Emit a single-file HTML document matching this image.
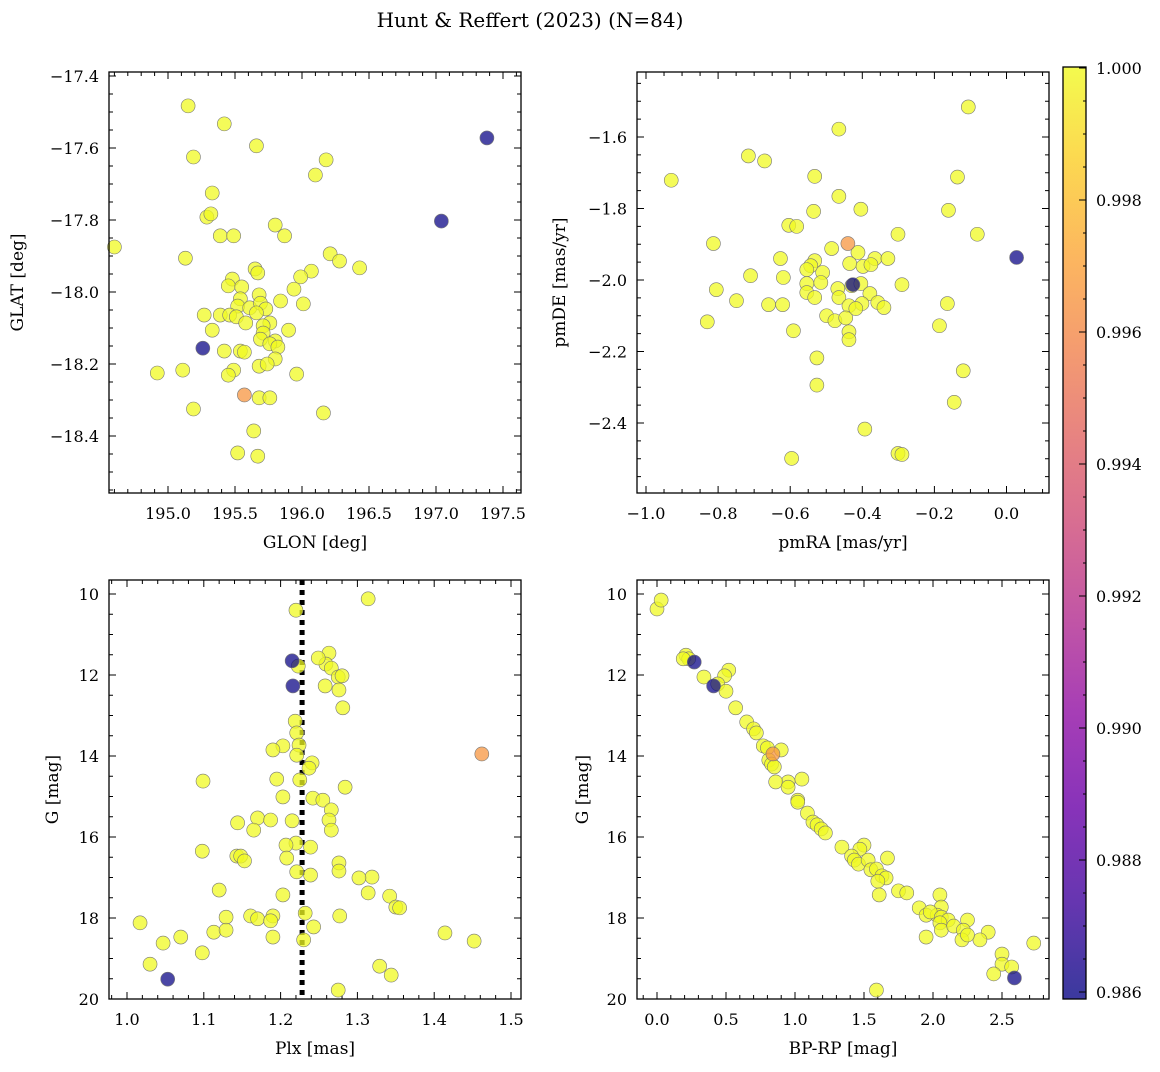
<!DOCTYPE html>
<html><head><meta charset="utf-8"><style>
body{margin:0;background:#fff;}
svg text{font-family:"DejaVu Serif","Liberation Serif",serif;fill:#000;}
</style></head><body>
<svg id="chart" width="1160" height="1067" viewBox="0 0 1160 1067" xmlns="http://www.w3.org/2000/svg">
<defs>
<linearGradient id="plasma" x1="0" y1="1" x2="0" y2="0">
<stop offset="0" stop-color="#0d0887"/><stop offset="0.1" stop-color="#41049d"/><stop offset="0.2" stop-color="#6a00a8"/><stop offset="0.3" stop-color="#8f0da4"/><stop offset="0.4" stop-color="#b12a90"/><stop offset="0.5" stop-color="#cc4778"/><stop offset="0.6" stop-color="#e16462"/><stop offset="0.7" stop-color="#f2844b"/><stop offset="0.8" stop-color="#fca636"/><stop offset="0.9" stop-color="#fcce25"/><stop offset="1" stop-color="#f0f921"/>
</linearGradient>
</defs>
<text x="530" y="27" font-size="20" text-anchor="middle">Hunt &amp; Reffert (2023) (N=84)</text>
</svg>
<script>
// Panel 1: GLON / GLAT
const glon=[195.15,195.19,195.42,195.66,196.18,196.10,195.33,195.29,195.32,195.39,195.80,195.49,194.60,195.13,197.04,197.38,196.21,195.87,196.28,196.43,195.65,195.67,196.07,195.99,195.48,195.45,195.55,195.94,195.84,195.54,195.68,195.52,195.61,195.69,196.01,195.39,195.46,195.51,195.73,195.66,195.27,195.58,195.76,195.33,195.71,195.71,195.69,195.80,195.90,195.76,195.82,195.54,195.42,195.57,195.80,195.68,195.49,195.74,195.26,194.92,195.11,195.45,195.96,195.57,195.68,195.76,195.19,196.16,195.64,195.52,195.67];
const glat=[-17.483,-17.625,-17.533,-17.594,-17.633,-17.675,-17.725,-17.792,-17.783,-17.844,-17.814,-17.844,-17.875,-17.906,-17.803,-17.572,-17.894,-17.844,-17.914,-17.933,-17.936,-17.947,-17.942,-17.958,-17.964,-17.983,-17.986,-17.992,-18.025,-18.019,-18.008,-18.039,-18.044,-18.031,-18.033,-18.064,-18.064,-18.069,-18.047,-18.058,-18.064,-18.086,-18.086,-18.106,-18.094,-18.114,-18.131,-18.136,-18.106,-18.144,-18.153,-18.164,-18.164,-18.167,-18.186,-18.206,-18.217,-18.200,-18.156,-18.225,-18.217,-18.231,-18.228,-18.286,-18.294,-18.294,-18.325,-18.336,-18.386,-18.447,-18.456];
const prob1=[1,1,1,1,1,1,1,1,1,1,1,1,1,1,0.986,0.986,1,1,1,1,1,1,1,1,1,1,1,1,1,1,1,1,1,1,1,1,1,1,1,1,1,1,1,1,1,1,1,1,1,1,1,1,1,1,1,1,1,1,0.986,1,1,1,1,0.9965,1,1,1,1,1,1,1];
// Panel 2: pmRA / pmDE
const pmra=[-0.465,-0.106,-0.930,-0.716,-0.671,-0.532,-0.136,-0.465,-0.404,-0.535,-0.161,-0.604,-0.582,-0.081,-0.301,-0.813,-0.440,-0.485,-0.412,-0.627,-0.532,-0.365,-0.329,-0.543,-0.554,-0.510,-0.435,-0.398,-0.376,0.028,-0.710,-0.619,-0.554,-0.515,-0.468,-0.429,-0.426,-0.404,-0.805,-0.554,-0.532,-0.465,-0.379,-0.290,-0.749,-0.660,-0.621,-0.437,-0.401,-0.357,-0.164,-0.340,-0.499,-0.476,-0.446,-0.418,-0.830,-0.186,-0.591,-0.437,-0.437,-0.526,-0.120,-0.526,-0.145,-0.393,-0.301,-0.290,-0.596];
const pmde=[-1.578,-1.516,-1.721,-1.653,-1.667,-1.710,-1.712,-1.766,-1.802,-1.808,-1.805,-1.847,-1.850,-1.872,-1.872,-1.898,-1.898,-1.912,-1.923,-1.940,-1.946,-1.940,-1.940,-1.960,-1.971,-1.979,-1.954,-1.962,-1.957,-1.937,-1.988,-1.993,-2.010,-2.007,-2.024,-2.016,-2.013,-2.010,-2.027,-2.035,-2.049,-2.049,-2.038,-2.013,-2.058,-2.069,-2.069,-2.072,-2.066,-2.063,-2.066,-2.077,-2.100,-2.114,-2.106,-2.080,-2.117,-2.128,-2.142,-2.145,-2.167,-2.218,-2.254,-2.294,-2.342,-2.417,-2.485,-2.488,-2.499];
const prob2=[1,1,1,1,1,1,1,1,1,1,1,1,1,1,1,1,0.9965,1,1,1,1,1,1,1,1,1,1,1,1,0.986,1,1,1,1,1,1,0.986,1,1,1,1,1,1,1,1,1,1,1,1,1,1,1,1,1,1,1,1,1,1,1,1,1,1,1,1,1,1,1,1];
// Panel 3: Plx / G
const plx=[1.220,1.314,1.215,1.223,1.216,1.263,1.259,1.249,1.266,1.275,1.280,1.258,1.276,1.281,1.219,1.221,1.224,1.203,1.190,1.221,1.462,1.241,1.237,1.225,1.195,1.099,1.284,1.203,1.242,1.255,1.266,1.170,1.215,1.187,1.144,1.263,1.266,1.165,1.220,1.207,1.098,1.239,1.143,1.148,1.153,1.208,1.276,1.221,1.276,1.239,1.319,1.302,1.120,1.203,1.314,1.342,1.350,1.355,1.161,1.129,1.170,1.190,1.232,1.277,1.017,1.187,1.113,1.129,1.243,1.414,1.190,1.070,1.230,1.047,1.452,1.098,1.329,1.030,1.344,1.275,1.053];
const gmag3=[10.40,10.12,11.65,11.78,12.27,11.46,11.73,11.58,11.83,12.05,12.02,12.27,12.37,12.81,13.14,13.43,13.73,13.75,13.85,13.98,13.95,14.17,14.30,14.59,14.57,14.62,14.77,15.01,15.04,15.09,15.33,15.53,15.60,15.58,15.65,15.58,15.83,15.83,16.15,16.20,16.35,16.25,16.47,16.47,16.59,16.52,16.64,16.86,16.84,16.94,16.99,17.01,17.31,17.43,17.38,17.46,17.73,17.75,17.95,17.98,18.02,17.95,17.88,17.95,18.12,18.07,18.35,18.30,18.22,18.37,18.47,18.47,18.54,18.62,18.57,18.86,19.19,19.14,19.41,19.78,19.51];
const prob3=[1,1,0.986,1,0.986,1,1,1,1,1,1,1,1,1,1,1,1,1,1,1,0.9965,1,1,1,1,1,1,1,1,1,1,1,1,1,1,1,1,1,1,1,1,1,1,1,1,1,1,1,1,1,1,1,1,1,1,1,1,1,1,1,1,1,1,1,1,1,1,1,1,1,1,1,1,1,1,1,1,1,1,1,0.986];
const plxRef=[1.228];
// Panel 4: BP-RP / G
const bprp=[0.00,0.03,0.21,0.23,0.19,0.27,0.34,0.41,0.52,0.49,0.44,0.50,0.57,0.65,0.70,0.72,0.77,0.80,0.90,0.84,0.81,0.83,0.85,1.05,0.95,0.86,0.95,1.02,1.02,1.09,1.13,1.16,1.19,1.22,1.34,1.50,1.47,1.41,1.43,1.46,1.53,1.67,1.55,1.59,1.63,1.66,1.60,1.75,1.81,1.61,2.05,1.90,1.95,2.06,2.03,1.98,2.06,2.11,2.05,2.25,2.40,2.06,2.15,2.22,2.34,2.21,2.25,1.95,2.73,2.50,2.50,2.44,2.57,2.59,1.59];
const gmag4=[10.37,10.15,11.51,11.60,11.60,11.68,12.05,12.27,11.88,12.02,12.22,12.40,12.81,13.16,13.33,13.43,13.75,13.80,13.85,13.95,14.10,14.20,14.27,14.57,14.64,14.64,14.77,15.09,15.14,15.41,15.63,15.70,15.80,15.90,16.25,16.20,16.30,16.47,16.57,16.67,16.57,16.52,16.81,16.79,16.96,17.01,17.09,17.33,17.38,17.43,17.43,17.75,17.93,17.73,17.93,17.85,17.98,18.05,18.12,18.05,18.35,18.30,18.20,18.30,18.54,18.54,18.42,18.47,18.62,18.89,19.14,19.38,19.21,19.48,19.78];
const prob4=[1,1,1,1,1,0.986,1,0.986,1,1,1,1,1,1,1,1,1,1,1,0.9965,1,1,1,1,1,1,1,1,1,1,1,1,1,1,1,1,1,1,1,1,1,1,1,1,1,1,1,1,1,1,1,1,1,1,1,1,1,1,1,1,1,1,1,1,1,1,1,1,1,1,1,1,1,0.986,1];
// Colorbar
const cbTicks=[0.986,0.988,0.990,0.992,0.994,0.996,0.998,1.000];
const cbMin=0.986, cbMax=1.000;

const NS='http://www.w3.org/2000/svg';
const svg=document.getElementById('chart');
function mk(tag,attrs,parent){const e=document.createElementNS(NS,tag);for(const k in attrs)e.setAttribute(k,attrs[k]);(parent||svg).appendChild(e);return e;}
const stops=[[13,8,135],[65,4,157],[106,0,168],[143,13,164],[177,42,144],[204,71,120],[225,100,98],[242,132,75],[252,166,54],[252,206,37],[240,249,33]];
function plasma(p){let t=(p-cbMin)/(cbMax-cbMin);t=Math.max(0,Math.min(1,t));const f=t*10,i=Math.min(9,Math.floor(f)),r=f-i;const a=stops[i],b=stops[i+1];return 'rgb('+a.map((v,k)=>Math.round(v+(b[k]-v)*r)).join(',')+')';}
function fmt(v,d){return (v<0?'\u2212':'')+Math.abs(v).toFixed(d);}

function panel(cfg){
  const g=mk('g',{});
  
  
  const sx=v=>cfg.x0+(v-cfg.xa)*cfg.xs;
  const sy=v=>cfg.y0+(v-cfg.ya)*cfg.ys;
  const tg=mk('g',{},g);
  
  
  const nM=Math.round((cfg.xmax-cfg.xmin)/cfg.xminor);
  for(let k=0;k<=nM+2;k++){const v=cfg.xmin+k*cfg.xminor;const px=sx(v);if(px<cfg.L-0.5||px>cfg.R+0.5)continue;
    const major=Math.abs(v/cfg.xmajor-Math.round(v/cfg.xmajor))<1e-6;const len=major?7:4;
    mk('line',{x1:px,x2:px,y1:cfg.B,y2:cfg.B-len,stroke:'#000','stroke-width':1},tg);
    mk('line',{x1:px,x2:px,y1:cfg.T,y2:cfg.T+len,stroke:'#000','stroke-width':1},tg);
    if(major){const t=mk('text',{x:px,y:cfg.B+26,'font-size':16,'text-anchor':'middle'},tg);t.textContent=fmt(v,cfg.xdec);
      
      }
  }
  const nY=Math.round((cfg.ymax-cfg.ymin)/cfg.yminor);
  for(let k=0;k<=nY+2;k++){const v=cfg.ymin+k*cfg.yminor;const py=sy(v);if(py<cfg.T-0.5||py>cfg.B+0.5)continue;
    const major=Math.abs(v/cfg.ymajor-Math.round(v/cfg.ymajor))<1e-6;const len=major?7:4;
    mk('line',{x1:cfg.L,x2:cfg.L+len,y1:py,y2:py,stroke:'#000','stroke-width':1},tg);
    mk('line',{x1:cfg.R,x2:cfg.R-len,y1:py,y2:py,stroke:'#000','stroke-width':1},tg);
    if(major){const t=mk('text',{x:cfg.L-10,y:py+6,'font-size':16,'text-anchor':'end'},tg);t.textContent=fmt(v,cfg.ydec);
      
      }
  }
  if(cfg.vline!==undefined){const l=mk('line',{x1:sx(cfg.vline),x2:sx(cfg.vline),y1:cfg.T,y2:cfg.B,stroke:'#000','stroke-width':5,'stroke-dasharray':'5,5'},g);
    
    }
  const pg=mk('g',{},g);
  
  
  const order=cfg.xs_.map((_,i)=>i).sort((a,b)=>cfg.p[b]-cfg.p[a]);
  order.forEach(i=>{const c=mk('circle',{cx:sx(cfg.xs_[i]),cy:sy(cfg.ys_[i]),r:7,fill:plasma(cfg.p[i]),'fill-opacity':0.75,stroke:'#777','stroke-width':0.6},pg);
    
    });
  const fr=mk('rect',{x:cfg.L,y:cfg.T,width:cfg.R-cfg.L,height:cfg.B-cfg.T,fill:'none',stroke:'#000','stroke-width':1.3},g);
  
  
  const xl=mk('text',{x:(cfg.L+cfg.R)/2,y:cfg.B+55,'font-size':17,'text-anchor':'middle'},g);xl.textContent=cfg.xlabel;
  
  
  const yx=cfg.ylx,yy=(cfg.T+cfg.B)/2;
  const yl=mk('text',{x:yx,y:yy,'font-size':17,'text-anchor':'middle',transform:'rotate(-90 '+yx+' '+yy+')'},g);yl.textContent=cfg.ylabel;
  
  
}
panel({name:'glon-glat-panel',L:109,R:521,T:72,B:493,x0:168,xa:195,xs:134,y0:76,ya:-17.4,ys:-360,
  xmin:194.5,xmax:197.7,xminor:0.1,xmajor:0.5,xdec:1,ymin:-18.6,ymax:-17.35,yminor:0.05,ymajor:0.2,ydec:1,
  xs_:glon,ys_:glat,p:prob1,xlabel:'GLON [deg]',ylabel:'GLAT [deg]',ylx:23});
panel({name:'pm-panel',L:637,R:1049,T:72,B:493,x0:646,xa:-1,xs:360.5,y0:137,ya:-1.6,ys:-357.5,
  xmin:-1.05,xmax:0.15,xminor:0.05,xmajor:0.2,xdec:1,ymin:-2.6,ymax:-1.4,yminor:0.05,ymajor:0.2,ydec:1,
  xs_:pmra,ys_:pmde,p:prob2,xlabel:'pmRA [mas/yr]',ylabel:'pmDE [mas/yr]',ylx:565});
panel({name:'plx-g-panel',L:109,R:521,T:580,B:999,x0:127,xa:1,xs:768,y0:594,ya:10,ys:40.5,
  xmin:0.96,xmax:1.52,xminor:0.02,xmajor:0.1,xdec:1,ymin:9.5,ymax:20.5,yminor:0.5,ymajor:2,ydec:0,
  xs_:plx,ys_:gmag3,p:prob3,vline:plxRef[0],xlabel:'Plx [mas]',ylabel:'G [mag]',ylx:58});
panel({name:'cmd-panel',L:637,R:1049,T:580,B:999,x0:657,xa:0,xs:138,y0:594,ya:10,ys:40.5,
  xmin:-0.2,xmax:2.9,xminor:0.1,xmajor:0.5,xdec:1,ymin:9.5,ymax:20.5,yminor:0.5,ymajor:2,ydec:0,
  xs_:bprp,ys_:gmag4,p:prob4,xlabel:'BP-RP [mag]',ylabel:'G [mag]',ylx:588});
// colorbar
const cb=mk('g',{});


const cbT=67,cbB=999,cbL=1063,cbR=1086;
const cy=v=>992-(v-cbMin)/(cbMax-cbMin)*(992-68);
mk('rect',{x:cbL,y:cy(cbMax),width:cbR-cbL,height:cy(cbMin)-cy(cbMax),fill:'url(#plasma)','fill-opacity':0.8},cb);
mk('rect',{x:cbL,y:cbT,width:cbR-cbL,height:cy(cbMax)-cbT,fill:plasma(1),'fill-opacity':0.8},cb);
mk('rect',{x:cbL,y:cy(cbMin),width:cbR-cbL,height:cbB-cy(cbMin),fill:plasma(cbMin),'fill-opacity':0.8},cb);
for(let v=cbMin-0.0005;v<=cbMax+0.0006;v+=0.0005){const py=cy(v);if(py<cbT||py>cbB)continue;mk('line',{x1:cbR,x2:cbR-3,y1:py,y2:py,stroke:'#000','stroke-width':1},cb);}
cbTicks.forEach(v=>{const py=cy(v);mk('line',{x1:cbR,x2:cbR-7,y1:py,y2:py,stroke:'#000','stroke-width':1},cb);
  const t=mk('text',{x:cbR+10,y:py+6,'font-size':16},cb);t.textContent=v.toFixed(3);
  
  });
mk('rect',{x:cbL,y:cbT,width:cbR-cbL,height:cbB-cbT,fill:'none',stroke:'#000','stroke-width':1.3},cb);
</script>
</body></html>
